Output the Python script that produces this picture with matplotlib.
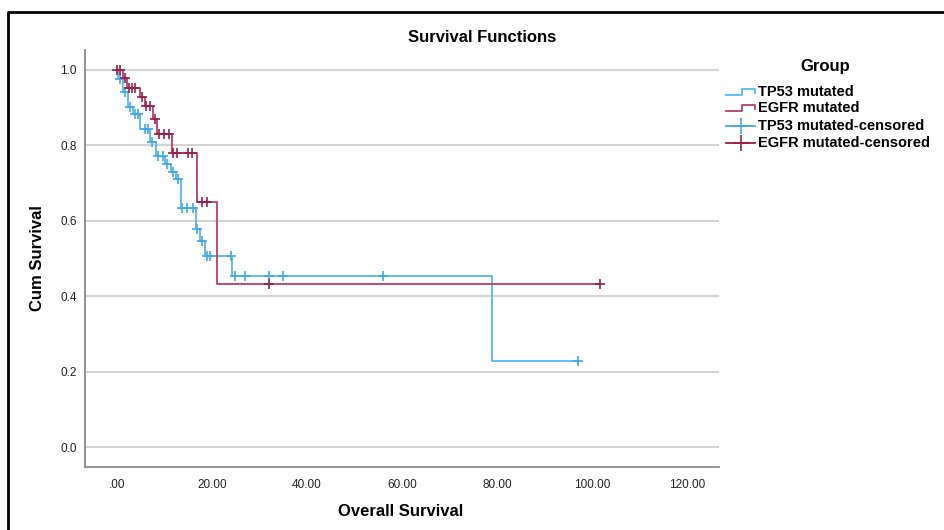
import numpy as np
import matplotlib.pyplot as plt
from matplotlib.lines import Line2D

plt.rcParams['font.family'] = ['Liberation Sans', 'DejaVu Sans']

# step curves: event times and survival level after each step
tp53_times = [0, 0.3, 1.3, 2.3, 3.4, 4.8, 7.0, 8.2, 10.2, 11.3, 12.4, 13.5, 16.6, 17.5, 18.5, 24.2, 79.0]
tp53_surv = [1.0, 0.976, 0.941, 0.901, 0.883, 0.843, 0.808, 0.771, 0.750, 0.730, 0.710, 0.635, 0.579, 0.547, 0.507, 0.453, 0.227]
tp53_cens = [0.6, 1.7, 2.7, 3.8, 4.4, 5.9, 6.5, 7.4, 8.6, 9.7, 10.5, 11.8, 12.8, 13.7, 14.7, 16.0,
             16.8, 17.9, 18.9, 19.6, 24.0, 24.8, 26.9, 32.0, 35.0, 56.0, 97.0]

egfr_times = [0, 1.3, 2.2, 4.8, 5.9, 7.6, 8.4, 11.6, 16.8, 21.0]
egfr_surv = [1.0, 0.978, 0.952, 0.928, 0.904, 0.869, 0.829, 0.781, 0.651, 0.432]
egfr_cens = [0.0, 0.7, 1.8, 2.5, 3.2, 3.8, 5.3, 6.2, 7.0, 8.0, 8.9, 10.0, 11.0, 11.8, 12.6, 14.9, 15.8,
             17.9, 18.9, 32.0, 101.7]

groups = ["TP53 mutated", "EGFR mutated"]
blue = '#55B9F2'
red = '#B43F6A'
blue_m = '#3FA9EC'
red_m = '#9C1C48'

fig = plt.figure(figsize=(9.44, 5.30), dpi=100)
ax = fig.add_axes([85/944, 1-467/530, (719-85)/944, (467-50)/530])


def level(times, surv, t):
    i = np.searchsorted(times, t, side='right') - 1
    return surv[max(i, 0)]


for times, surv, cens, lc, mc in [(tp53_times, tp53_surv, tp53_cens, blue, blue_m),
                                  (egfr_times, egfr_surv, egfr_cens, red, red_m)]:
    end = max(cens)
    ax.step(times + [end], surv + [surv[-1]], where='post', color=lc, lw=1.3, zorder=3)
    cy = [level(times, surv, c) for c in cens]
    ax.plot(cens, cy, ls='none', marker='+', ms=7.5, mew=1.2, color=mc, zorder=4)

ax.set_xlim(-6.7, 126.7)
ax.set_ylim(-0.053, 1.053)
ax.set_xticks([0, 20, 40, 60, 80, 100, 120])
ax.set_xticklabels(['.00', '20.00', '40.00', '60.00', '80.00', '100.00', '120.00'])
ax.set_yticks([0, 0.2, 0.4, 0.6, 0.8, 1.0])
ax.set_yticklabels(['0.0', '0.2', '0.4', '0.6', '0.8', '1.0'])
ax.tick_params(length=0, labelsize=8.5, labelcolor='#222222')
ax.tick_params(axis='x', pad=9)
ax.tick_params(axis='y', pad=6)
ax.grid(axis='y', color='#D4D4D4', lw=1.5)
ax.set_axisbelow(True)
for s in ['top', 'right']:
    ax.spines[s].set_visible(False)
for s in ['left', 'bottom']:
    ax.spines[s].set_color('#8A8A8A')
    ax.spines[s].set_linewidth(1.3)

fig.text(482/944, 1-37/530, 'Survival Functions', ha='center', va='center', fontsize=12, fontweight='bold')
fig.text(401/944, 1-511/530, 'Overall Survival', ha='center', va='center', fontsize=12, fontweight='bold')
fig.text(38/944, 1-258/530, 'Cum Survival', ha='center', va='center', rotation=90, fontsize=12, fontweight='bold')

# legend drawn by hand so the step icon can be shown
fig.text(825/944, 1-67/530, 'Group', ha='center', va='center', fontsize=12, fontweight='bold')
rows = [92, 108, 126, 143]
labels = [groups[0], groups[1], groups[0] + '-censored', groups[1] + '-censored']
W, H = 944, 530
for k, (yp, lab) in enumerate(zip(rows, labels)):
    c = [blue, red, blue_m, red_m][k]
    if k < 2:
        xs = [726, 742, 742, 755, 755]
        ys = [yp + 3, yp + 3, yp - 3, yp - 3, yp + 1]
        fig.add_artist(Line2D([x/W for x in xs], [1-y/H for y in ys], color=c, lw=1.3))
    else:
        fig.add_artist(Line2D([726/W, 755/W], [1-yp/H, 1-yp/H], color=c, lw=1.3))
        fig.add_artist(Line2D([741/W], [1-yp/H], marker='+', ms=11, mew=1.2, color=c))
    fig.text(758/W, 1-yp/H, lab, ha='left', va='center', fontsize=10.5, fontweight='bold')

# outer frame (top and left edges visible in the reference)
fig.add_artist(Line2D([8/W, 8/W, 1.0], [0.0, 1-12/H, 1-12/H], color='black', lw=2))

fig.savefig('out.png', dpi=100)
